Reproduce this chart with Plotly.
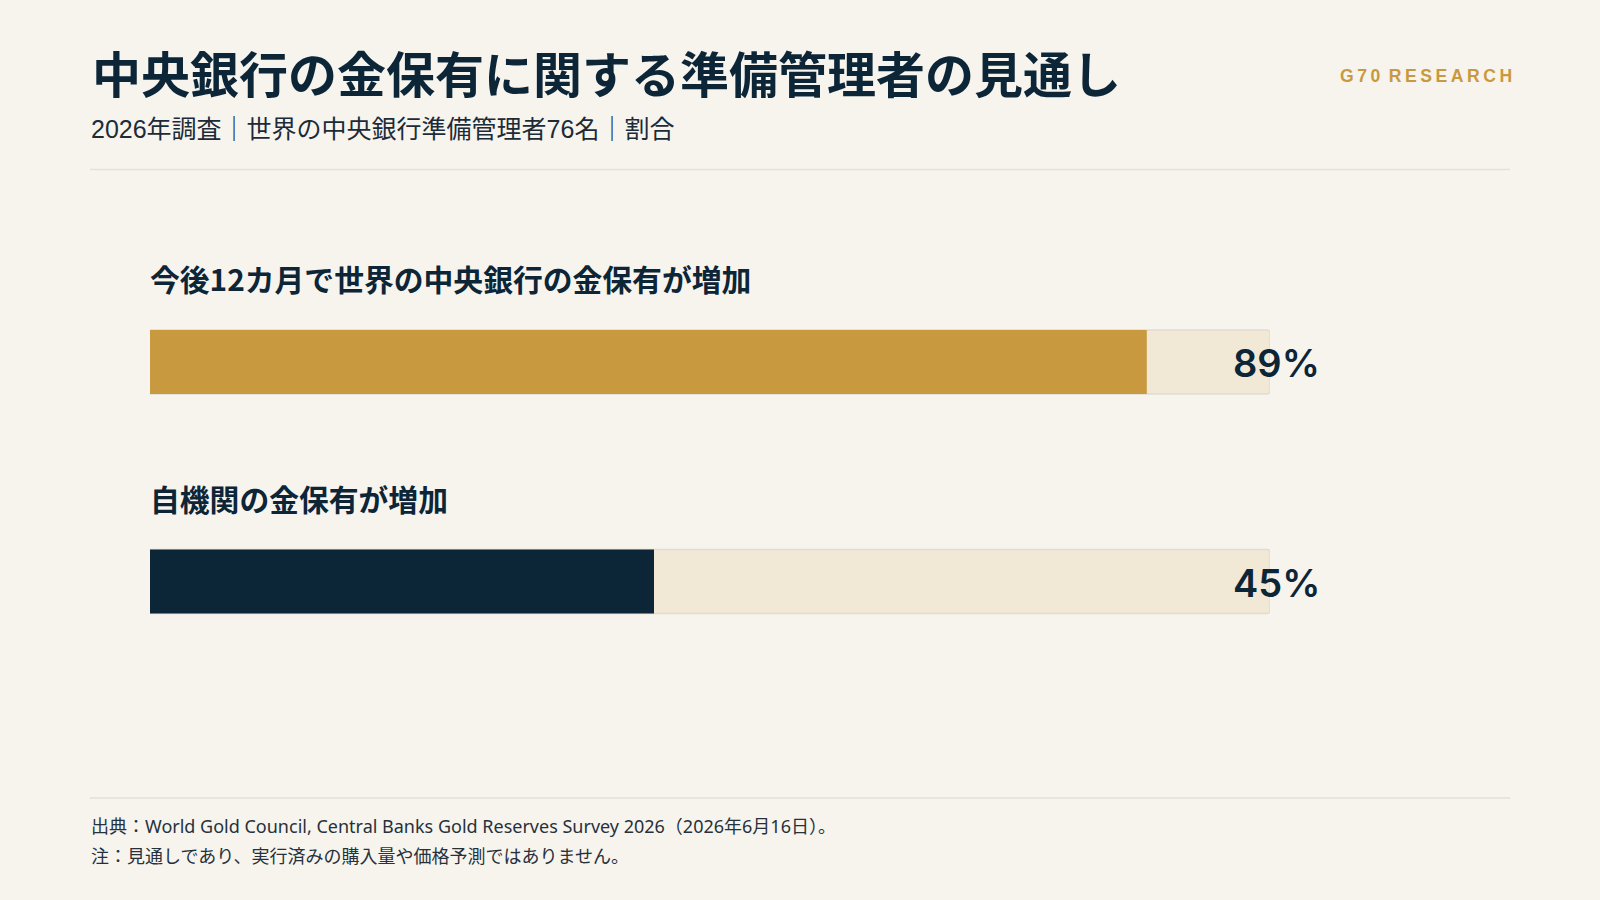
import plotly.graph_objects as go

# survey results (share of reserve managers, %)
questions = ["今後12カ月で世界の中央銀行の金保有が増加", "自機関の金保有が増加"]
shares = [89, 45]
value_labels = ["89%", "45%"]
scale_max = 100

title = "中央銀行の金保有に関する準備管理者の見通し"
subtitle = "2026年調査｜世界の中央銀行準備管理者76名｜割合"
brand = "G\u20097\u20090 \u2009R\u2009E\u2009S\u2009E\u2009A\u2009R\u2009C\u2009H"
source_note = "出典：World Gold Council, Central Banks Gold Reserves Survey 2026（2026年6月16日）。"
caveat_note = "注：見通しであり、実行済みの購入量や価格予測ではありません。"

W, H = 1600, 900
BG = "#f7f4ee"
NAVY = "#0c2537"
GOLD = "#c9993f"
TRACK = "#f1e8d6"
RULE = "#e5e1d9"
JP = "Liberation Sans, Noto Sans CJK JP"
JP_NOTE = "Noto Sans, Noto Sans CJK JP"
JP_BOLD = "Noto Sans CJK JP"

# layout in pixels
track_left, track_right = 150, 1270
bar_centers = [362, 581.5]
bar_px = 64
step = bar_centers[1] - bar_centers[0]
y_top = 0 - bar_centers[0] / step
y_bottom = 0 + (H - bar_centers[0]) / step
bar_w = bar_px / step

fig = go.Figure()

fig.add_trace(go.Bar(
    y=questions, x=[scale_max] * len(questions), orientation="h",
    width=bar_w, marker=dict(color=TRACK, line=dict(color="#e2dccf", width=1.5), cornerradius=3),
    hoverinfo="skip", showlegend=False,
))
fig.add_trace(go.Bar(
    y=questions, x=shares, orientation="h",
    width=bar_w, marker=dict(color=[GOLD, NAVY], line=dict(width=0), cornerradius=2),
    hoverinfo="skip", showlegend=False,
))

annotations = []
for q, lab in zip(questions, value_labels):
    annotations.append(dict(
        x=0, y=q, xref="x", yref="y", text=f"<b>{q}</b>", showarrow=False,
        xanchor="left", yanchor="middle", yshift=84, xshift=-2,
        font=dict(family=JP_BOLD, size=29.8, color=NAVY),
    ))
    annotations.append(dict(
        x=scale_max, y=q, xref="x", yref="y", text=lab, showarrow=False,
        xanchor="center", yanchor="middle", xshift=6, yshift=-1,
        font=dict(family="Inter", size=38, color=NAVY, weight=600),
    ))

annotations += [
    dict(x=90 / W, y=1 - 72 / H, xref="paper", yref="paper", text=f"<b>{title}</b>",
         showarrow=False, xanchor="left", yanchor="middle",
         font=dict(family=JP_BOLD, size=49, color=NAVY)),
    dict(x=89 / W, y=1 - 129 / H, xref="paper", yref="paper", text=subtitle,
         showarrow=False, xanchor="left", yanchor="middle",
         font=dict(family=JP, size=25, color="#1c2b38")),
    dict(x=1514 / W, y=1 - 75.5 / H, xref="paper", yref="paper", text=f"<b>{brand}</b>",
         showarrow=False, xanchor="right", yanchor="middle",
         font=dict(family="Liberation Sans", size=17.6, color=GOLD)),
    dict(x=89 / W, y=1 - 826 / H, xref="paper", yref="paper", text=source_note,
         showarrow=False, xanchor="left", yanchor="middle",
         font=dict(family=JP_NOTE, size=18, color="#26313c")),
    dict(x=89 / W, y=1 - 856 / H, xref="paper", yref="paper", text=caveat_note,
         showarrow=False, xanchor="left", yanchor="middle",
         font=dict(family=JP_NOTE, size=18, color="#26313c")),
]

shapes = [
    dict(type="line", xref="paper", yref="paper", x0=90 / W, x1=1510 / W,
         y0=1 - 169.5 / H, y1=1 - 169.5 / H, line=dict(color=RULE, width=1.5)),
    dict(type="line", xref="paper", yref="paper", x0=90 / W, x1=1510 / W,
         y0=1 - 798 / H, y1=1 - 798 / H, line=dict(color=RULE, width=1.5)),
]

fig.update_layout(
    width=W, height=H,
    paper_bgcolor=BG, plot_bgcolor=BG,
    margin=dict(l=0, r=0, t=0, b=0),
    barmode="overlay",
    xaxis=dict(domain=[track_left / W, track_right / W], range=[0, scale_max],
               visible=False, fixedrange=True),
    yaxis=dict(type="category", range=[y_bottom, y_top], visible=False, fixedrange=True),
    annotations=annotations,
    shapes=shapes,
    font=dict(family=JP),
)

fig.write_html("out.html", config={"displayModeBar": False},
               post_script="document.body.style.margin='0';")
